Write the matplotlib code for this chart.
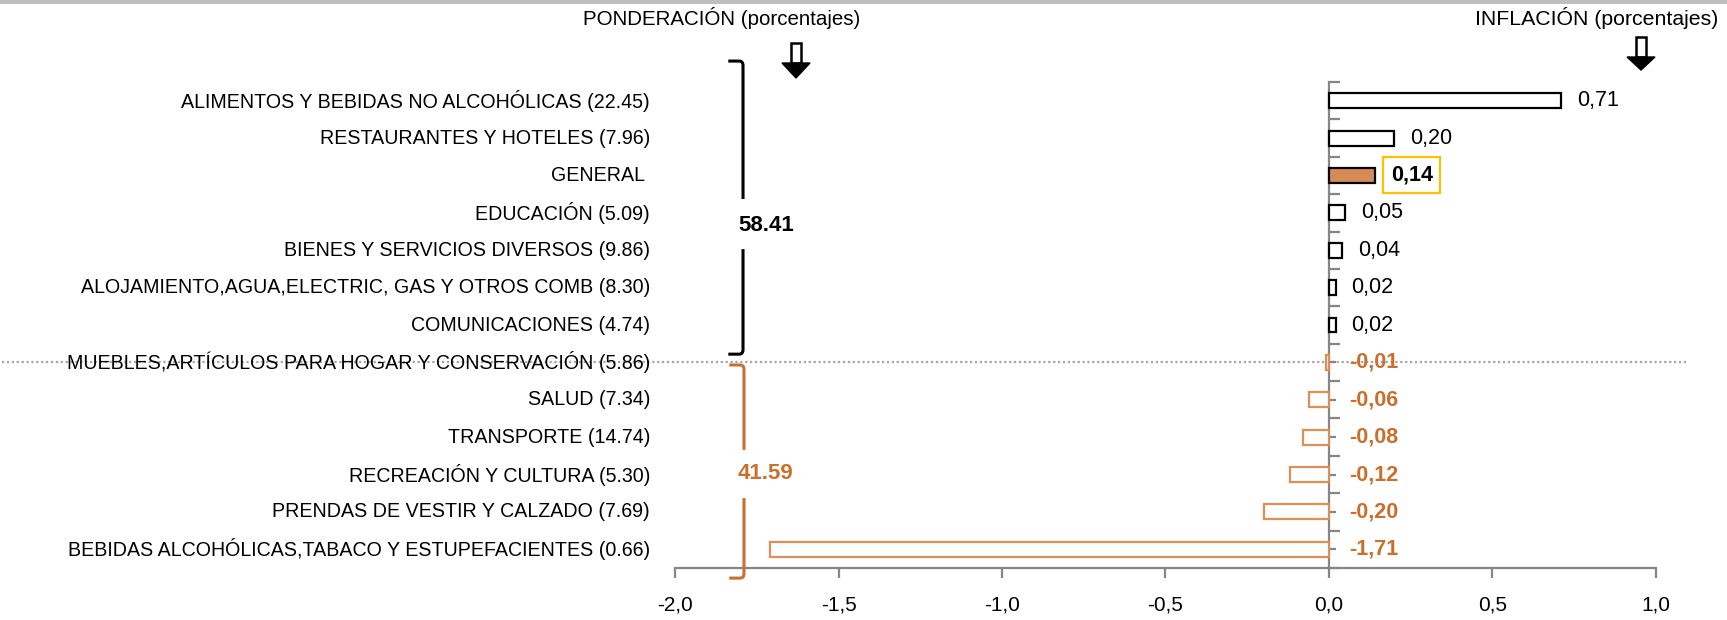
import matplotlib
matplotlib.use("Agg")
import matplotlib.pyplot as plt
import matplotlib.transforms as mtrans
from matplotlib.path import Path
from matplotlib.patches import PathPatch, Polygon, Rectangle
from matplotlib.ticker import FixedLocator, FuncFormatter

plt.rcParams["font.family"] = ["Liberation Sans", "DejaVu Sans"]

W, H = 1727, 620

categories = [
    "ALIMENTOS Y BEBIDAS NO ALCOHÓLICAS (22.45)",
    "RESTAURANTES Y HOTELES (7.96)",
    "GENERAL ",
    "EDUCACIÓN (5.09)",
    "BIENES Y SERVICIOS DIVERSOS (9.86)",
    "ALOJAMIENTO,AGUA,ELECTRIC, GAS Y OTROS COMB (8.30)",
    "COMUNICACIONES (4.74)",
    "MUEBLES,ARTÍCULOS PARA HOGAR Y CONSERVACIÓN (5.86)",
    "SALUD (7.34)",
    "TRANSPORTE (14.74)",
    "RECREACIÓN Y CULTURA (5.30)",
    "PRENDAS DE VESTIR Y CALZADO (7.69)",
    "BEBIDAS ALCOHÓLICAS,TABACO Y ESTUPEFACIENTES (0.66)",
]
values = [0.71, 0.20, 0.14, 0.05, 0.04, 0.02, 0.02, -0.01, -0.06, -0.08, -0.12, -0.20, -1.71]
group_totals = ["58.41", "41.59"]
xticks = [-2.0, -1.5, -1.0, -0.5, 0.0, 0.5, 1.0]

BLACK, ORANGE, ORANGE_EDGE = "#000000", "#C8702E", "#DE8F57"
GENERAL_FILL, AXIS, YELLOW, DOTS = "#D68B56", "#868686", "#FFC000", "#A6A6A6"


def px(x, y):
    # pixel coords (origin top-left) -> figure fraction
    return (x / W, 1 - y / H)


def comma(v):
    return f"{v:.2f}".replace(".", ",")


fig = plt.figure(figsize=(W / 100, H / 100), dpi=100)
ax = fig.add_axes([675 / W, 1 - 568 / H, (1656 - 675) / W, (568 - 82) / H])

n = len(values)
for i, (cat, v) in enumerate(zip(categories, values)):
    if cat.startswith("GENERAL"):
        fc, ec = GENERAL_FILL, BLACK
    elif v >= 0:
        fc, ec = "white", BLACK
    else:
        fc, ec = "white", ORANGE_EDGE
    ax.barh(i, v, height=0.4, color=fc, edgecolor=ec, linewidth=1.6, zorder=3)

ax.set_xlim(-2, 1)
ax.set_ylim(n - 0.5, -0.5)
ax.spines[["top", "right"]].set_visible(False)
ax.spines["left"].set_position(("data", 0))
for s in ("left", "bottom"):
    ax.spines[s].set_color(AXIS)
    ax.spines[s].set_linewidth(1.6)
ax.xaxis.set_major_locator(FixedLocator(xticks))
ax.xaxis.set_major_formatter(FuncFormatter(lambda v, _: f"{v:.1f}".replace(".", ",")))
ax.tick_params(axis="x", length=7, width=1.6, color=AXIS, labelsize=15, pad=13)
ax.yaxis.set_major_locator(FixedLocator([i - 0.5 for i in range(n + 1)]))
ax.yaxis.set_minor_locator(FixedLocator(list(range(n))))
ax.tick_params(axis="y", which="both", direction="in", color=AXIS, width=1.6, labelleft=False)
ax.tick_params(axis="y", which="major", length=8)
ax.tick_params(axis="y", which="minor", length=5)

# category labels, right-aligned left of the plot area
lab_tr = mtrans.blended_transform_factory(ax.transAxes, ax.transData)
for i, cat in enumerate(categories):
    ax.text(-0.0255, i, cat, transform=lab_tr, ha="right", va="center", fontsize=14.1, zorder=4)

# value labels
for i, (cat, v) in enumerate(zip(categories, values)):
    if cat.startswith("GENERAL"):
        ax.annotate(comma(v), (v, i), xytext=(11.5, 0), textcoords="offset points",
                    ha="left", va="center", fontsize=15.5, fontweight="bold",
                    bbox=dict(boxstyle="square,pad=0.35", fc="white", ec=YELLOW, lw=1.6))
    elif v >= 0:
        ax.annotate(comma(v), (v, i), xytext=(11.5, 0), textcoords="offset points",
                    ha="left", va="center", fontsize=15.5)
    else:
        ax.annotate(comma(v), (0, i), xytext=(14.5, 0), textcoords="offset points",
                    ha="left", va="center", fontsize=15.5, fontweight="bold", color=ORANGE)

# dotted separator through the first negative category
sep_tr = mtrans.blended_transform_factory(fig.transFigure, ax.transData)
first_neg = next(i for i, v in enumerate(values) if v < 0)
ax.plot([2 / W, 1688 / W], [first_neg, first_neg], transform=sep_tr, color=DOTS, lw=1.6,
        ls=(0, (1, 1.2)), clip_on=False, zorder=1)


def bracket(x, y0, y1, g0, g1, color):
    hx, rx, ry = x - 0.045, 0.012, 0.12
    verts = [(hx, y0), (x - rx, y0), (x, y0), (x, y0 + ry), (x, g0),
             (x, g1), (x, y1 - ry), (x, y1), (x - rx, y1), (hx, y1)]
    codes = [Path.MOVETO, Path.LINETO, Path.CURVE3, Path.CURVE3, Path.LINETO,
             Path.MOVETO, Path.LINETO, Path.CURVE3, Path.CURVE3, Path.LINETO]
    ax.add_patch(PathPatch(Path(verts, codes), fill=False, ec=color, lw=2.2,
                           clip_on=False, zorder=4))


bracket(-1.792, -1.06, 6.78, 2.63, 3.97, BLACK)
bracket(-1.789, 7.07, 12.77, 9.34, 10.63, ORANGE)
ax.text(-1.722, 3.33, group_totals[0], ha="center", va="center", fontsize=16,
        fontweight="bold", color=BLACK)
ax.text(-1.722, 9.96, group_totals[1], ha="center", va="center", fontsize=16,
        fontweight="bold", color=ORANGE)


def down_arrow(cx, top, neck, tip, shaft_w=10, head_w=28):
    fig.add_artist(Rectangle(px(cx - shaft_w / 2, neck), shaft_w / W, (neck - top) / H,
                             transform=fig.transFigure, fc="white", ec=BLACK, lw=1.8))
    fig.add_artist(Polygon([px(cx - head_w / 2, neck), px(cx + head_w / 2, neck), px(cx, tip)],
                           closed=True, transform=fig.transFigure, fc=BLACK, ec=BLACK, lw=1))


fig.add_artist(Rectangle((0, 1 - 4 / H), 1, 4 / H, transform=fig.transFigure,
                         fc="#BFBFBF", ec="none"))
fig.text(*px(722, 18), "PONDERACIÓN (porcentajes)", ha="center", va="center", fontsize=14.8)
fig.text(*px(1597, 18), "INFLACIÓN (porcentajes)", ha="center", va="center", fontsize=15.3)
down_arrow(796, 43, 63, 78)
down_arrow(1641, 37, 57, 70)

fig.savefig("out.png", dpi=100)
